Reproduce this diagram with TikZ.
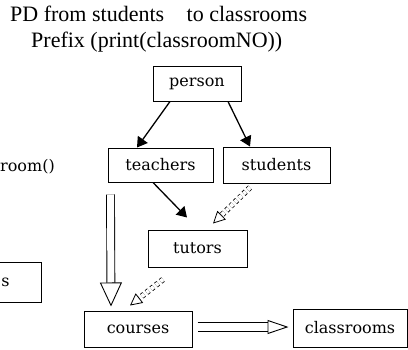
\documentclass[tikz,border=0pt]{standalone}
\usepackage{fontspec}
\setmainfont{Liberation Serif}
\newfontfamily\boxfont{DejaVu Serif}
\usetikzlibrary{arrows.meta}

\tikzset{
  box/.style={draw, line width=1pt, inner sep=0pt, font=\boxfont\fontsize{16}{18}\selectfont},
  isa/.style={line width=1.3pt, -{Triangle[length=10pt,width=12pt]}},
  hollow/.style={double, line width=0.9pt, double distance=7pt, -{Triangle[open,length=24pt,width=22pt]}},
  dashhollow/.style={dashed, double, line width=0.8pt, double distance=4pt, -{Triangle[open,length=12pt,width=12pt]}}
}

\begin{document}
\begin{tikzpicture}[x=1pt,y=-1pt]
  \useasboundingbox (0,0) rectangle (408,349);
  \clip (0,0) rectangle (408,349);
  % Headings
  \node[anchor=base west, inner sep=0pt, font=\fontsize{22}{24}\selectfont] (title) at (10,21) {PD from students\hspace{17pt} to classrooms};
  \node[anchor=base west, inner sep=0pt, font=\fontsize{22}{24}\selectfont] (prefix) at (31,47) {Prefix (print(classroomNO))};
  % Boxes
  \node[box, minimum width=88pt, minimum height=35pt] (person) at (197,83.5) {person};
  \node[box, minimum width=105pt, minimum height=34pt] (teachers) at (160.5,165) {teachers};
  \node[box, minimum width=107pt, minimum height=36pt] (students) at (276.5,165) {students};
  \node[box, minimum width=99pt, minimum height=37pt] (tutors) at (197.5,248.5) {tutors};
  \node[box, minimum width=108pt, minimum height=36pt] (courses) at (138,329) {courses};
  \node[box, minimum width=114pt, minimum height=38pt] (classrooms) at (350,328) {classrooms};
  \node[box, anchor=east, minimum height=40pt, inner xsep=32pt] (leftbox) at (42,282) {s};
  % Cut-off text on the left
  \node[anchor=west, inner sep=0pt, font=\boxfont\fontsize{16}{18}\selectfont] (method) at (0,167) {room()};
  % Inheritance arrows
  \draw[isa] ([xshift=-27pt]person.south) -- ([xshift=-23.5pt]teachers.north);
  \draw[isa] ([xshift=31pt]person.south) -- ([xshift=-26.5pt]students.north);
  \draw[isa] ([xshift=-7.5pt]teachers.south) -- ([xshift=-10.5pt,yshift=12pt]tutors.north);
  % Propagation arrows
  \draw[dashhollow] ([xshift=-26.5pt,yshift=-4pt]students.south) -- ([xshift=15.5pt,yshift=6pt]tutors.north);
  \draw[dashhollow] ([xshift=-34.5pt,yshift=-12pt]tutors.south) -- ([xshift=-8pt,yshift=5pt]courses.north);
  \draw[hollow] ([xshift=-50pt,yshift=-12pt]teachers.south) -- ([xshift=-27pt,yshift=4pt]courses.north);
  \draw[hollow, double distance=8pt, -{Triangle[open,length=21pt,width=14pt]}] ([xshift=5pt,yshift=2pt]courses.east) -- ([xshift=-4pt,yshift=1pt]classrooms.west);
\end{tikzpicture}
\end{document}
